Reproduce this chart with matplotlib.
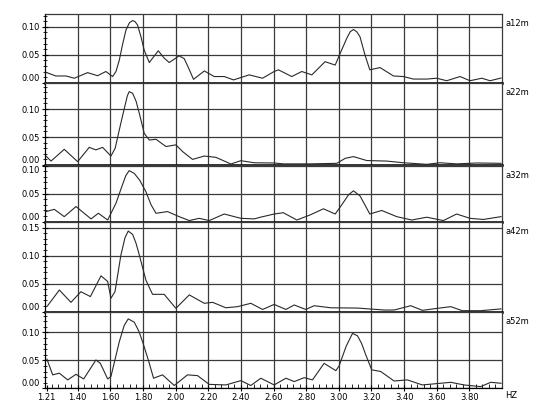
import matplotlib
matplotlib.use('Agg')
import matplotlib.pyplot as plt
from matplotlib.ticker import MultipleLocator

# channel names shown on the right of each strip
channels = ['a12m', 'a22m', 'a32m', 'a42m', 'a52m']

# spectra (Hz, amplitude)
freq_a12m = [1.206, 1.267, 1.329, 1.38, 1.461, 1.522, 1.573, 1.614, 1.635, 1.655, 1.675, 1.696, 1.717,
             1.737, 1.752, 1.767, 1.788, 1.808, 1.839, 1.865, 1.894, 1.93, 1.961, 2.022, 2.053, 2.08,
             2.110, 2.176, 2.237, 2.298, 2.355, 2.451, 2.533, 2.604, 2.63, 2.712, 2.773, 2.835,
             2.916, 2.978, 3.008, 3.05, 3.07, 3.09, 3.11, 3.13, 3.16, 3.19, 3.253, 3.335, 3.396,
             3.457, 3.539, 3.60, 3.661, 3.743, 3.804, 3.876, 3.927, 3.994]
amp_a12m = [0.0185, 0.012, 0.012, 0.008, 0.018, 0.0125, 0.020, 0.011, 0.020, 0.040, 0.068, 0.094, 0.107,
            0.111, 0.109, 0.103, 0.082, 0.058, 0.036, 0.046, 0.057, 0.044, 0.036, 0.048, 0.043, 0.026,
            0.006, 0.021, 0.011, 0.011, 0.005, 0.014, 0.008, 0.020, 0.023, 0.011, 0.020, 0.014,
            0.0375, 0.0315, 0.052, 0.080, 0.091, 0.095, 0.091, 0.082, 0.050, 0.023, 0.027, 0.012,
            0.011, 0.0065, 0.0065, 0.008, 0.0035, 0.011, 0.0035, 0.008, 0.0035, 0.0083]

freq_a22m = [1.206, 1.237, 1.318, 1.40, 1.471, 1.512, 1.553, 1.604, 1.63, 1.655, 1.685, 1.705, 1.716,
             1.737, 1.758, 1.778, 1.808, 1.839, 1.88, 1.941, 2.002, 2.043, 2.104, 2.176, 2.247,
             2.339, 2.40, 2.482, 2.604, 2.66, 2.824, 2.988, 3.04, 3.09, 3.171, 3.294, 3.396, 3.539,
             3.62, 3.722, 3.845, 3.994]
amp_a22m = [0.016, 0.007, 0.028, 0.006, 0.0315, 0.027, 0.0315, 0.016, 0.030, 0.0625, 0.100, 0.124, 0.131,
            0.128, 0.114, 0.092, 0.0565, 0.0446, 0.046, 0.033, 0.036, 0.024, 0.010, 0.016, 0.0137,
            0.0018, 0.0077, 0.004, 0.0036, 0.002, 0.002, 0.003, 0.012, 0.015, 0.008, 0.007, 0.004,
            0.0012, 0.004, 0.002, 0.0036, 0.003]

freq_a32m = [1.206, 1.257, 1.318, 1.39, 1.482, 1.527, 1.584, 1.635, 1.67, 1.695, 1.716, 1.747, 1.78,
             1.818, 1.85, 1.88, 1.951, 2.022, 2.084, 2.145, 2.206, 2.298, 2.40, 2.482, 2.52, 2.604,
             2.66, 2.743, 2.824, 2.906, 2.978, 3.018, 3.06, 3.09, 3.13, 3.16, 3.19, 3.263, 3.355,
             3.447, 3.539, 3.641, 3.722, 3.804, 3.886, 3.994]
amp_a32m = [0.018, 0.022, 0.009, 0.027, 0.005, 0.015, 0.003, 0.033, 0.062, 0.082, 0.091, 0.086, 0.074,
            0.0536, 0.030, 0.015, 0.018, 0.009, 0.002, 0.006, 0.002, 0.0137, 0.006, 0.005, 0.008,
            0.0137, 0.016, 0.003, 0.012, 0.023, 0.0137, 0.030, 0.048, 0.055, 0.046, 0.030, 0.0137,
            0.020, 0.009, 0.003, 0.008, 0.002, 0.0137, 0.006, 0.004, 0.009]

freq_a42m = [1.216, 1.288, 1.359, 1.42, 1.478, 1.543, 1.584, 1.604, 1.629, 1.665, 1.69, 1.71, 1.737,
             1.758, 1.778, 1.818, 1.859, 1.93, 2.002, 2.084, 2.176, 2.227, 2.308, 2.38, 2.461,
             2.533, 2.604, 2.676, 2.727, 2.798, 2.849, 2.951, 3.114, 3.278, 3.339, 3.441, 3.512,
             3.604, 3.686, 3.757, 3.869, 3.994]
amp_a42m = [0.0107, 0.0387, 0.0167, 0.0357, 0.027, 0.064, 0.054, 0.024, 0.036, 0.101, 0.132, 0.144, 0.138,
            0.122, 0.101, 0.0565, 0.031, 0.031, 0.006, 0.030, 0.015, 0.0167, 0.007, 0.009, 0.015,
            0.004, 0.013, 0.004, 0.012, 0.004, 0.0107, 0.007, 0.0065, 0.003, 0.003, 0.0107, 0.0024,
            0.006, 0.009, 0.0018, 0.0018, 0.005]

freq_a52m = [1.212, 1.247, 1.288, 1.339, 1.39, 1.437, 1.512, 1.539, 1.584, 1.604, 1.655, 1.685, 1.71,
             1.747, 1.775, 1.798, 1.833, 1.865, 1.92, 1.992, 2.073, 2.135, 2.206, 2.308, 2.40, 2.461,
             2.522, 2.604, 2.676, 2.727, 2.788, 2.839, 2.91, 2.982, 3.002, 3.045, 3.084, 3.114,
             3.14, 3.165, 3.202, 3.257, 3.339, 3.42, 3.512, 3.624, 3.686, 3.767, 3.869, 3.931, 3.994]
amp_a52m = [0.052, 0.024, 0.027, 0.015, 0.025, 0.0167, 0.0506, 0.0446, 0.0167, 0.021, 0.083, 0.112, 0.124,
            0.118, 0.102, 0.083, 0.0506, 0.018, 0.024, 0.005, 0.024, 0.0226, 0.007, 0.006, 0.0137,
            0.005, 0.018, 0.006, 0.018, 0.012, 0.019, 0.015, 0.0446, 0.0315, 0.040, 0.075, 0.098,
            0.094, 0.080, 0.060, 0.033, 0.030, 0.013, 0.015, 0.006, 0.009, 0.0107, 0.006, 0.003,
            0.0107, 0.009]

freqs = [freq_a12m, freq_a22m, freq_a32m, freq_a42m, freq_a52m]
amps = [amp_a12m, amp_a22m, amp_a32m, amp_a42m, amp_a52m]

# axis ranges
y_top = [0.1227, 0.147, 0.101, 0.1607, 0.1368]
y_ticks = [0.00, 0.05, 0.10, 0.15]
x_ticks = [1.21, 1.40, 1.60, 1.80, 2.00, 2.20, 2.40, 2.60, 2.80, 3.00, 3.20, 3.40, 3.60, 3.80]
x_labels = ['%.2f' % v for v in x_ticks]


def main():
    W, H = 546, 409
    fig = plt.figure(figsize=(W / 100, H / 100), dpi=100)
    plt.rcParams['font.family'] = 'DejaVu Sans'
    left, right = 45, 502
    edges = [14, 82.7, 165, 221.7, 311.7, 388.3]
    grid_col = '#3a3a3a'

    for i, name in enumerate(channels):
        top, bot = edges[i], edges[i + 1]
        ax = fig.add_axes([left / W, 1 - bot / H, (right - left) / W, (bot - top) / H])
        ax.plot(freqs[i], amps[i], color='#2a2a2a', lw=0.8, zorder=3)
        ax.set_xlim(1.20, 4.00)
        ax.set_ylim(0, y_top[i])

        ax.set_xticks(x_ticks)
        ax.xaxis.set_minor_locator(MultipleLocator(0.04))
        ticks = [t for t in y_ticks if t <= y_top[i] + 1e-9]
        ax.set_yticks(ticks)
        ax.set_yticklabels(['%.2f' % t for t in ticks])
        ax.yaxis.set_minor_locator(MultipleLocator(0.01))
        ax.tick_params(axis='y', which='major', direction='inout', length=5, width=0.8,
                       labelsize=6, pad=1, right=False)
        ax.tick_params(axis='y', which='minor', direction='inout', length=3, width=0.6)

        ax.grid(True, which='major', color=grid_col, lw=0.9)
        ax.get_xgridlines()[0].set_visible(False)
        ax.set_axisbelow(True)

        labels = ax.get_yticklabels()
        labels[0].set_va('bottom')
        if ticks[-1] >= y_top[i] - 0.002:
            labels[-1].set_va('top')

        for s in ['top', 'right']:
            ax.spines[s].set_color(grid_col)
            ax.spines[s].set_linewidth(0.9)
        ax.spines['left'].set_linewidth(0.9)
        ax.spines['bottom'].set_linewidth(1.8)

        if i < len(channels) - 1:
            ax.tick_params(axis='x', which='both', length=0, labelbottom=False)
        else:
            ax.set_xticklabels(x_labels)
            ax.tick_params(axis='x', which='major', direction='inout', length=5, width=0.8,
                           labelsize=6, pad=1)
            ax.tick_params(axis='x', which='minor', direction='in', length=3, width=0.6)
            ax.spines['bottom'].set_linewidth(0.9)

        ax.annotate(name, xy=(1, 1), xycoords='axes fraction', xytext=(3, -10),
                    textcoords='offset pixels', fontsize=6, ha='left', va='center')

    fig.text(505 / W, 1 - 395 / H, 'HZ', fontsize=6, ha='left', va='center')
    fig.savefig('out.png', dpi=100)


if __name__ == '__main__':
    main()
